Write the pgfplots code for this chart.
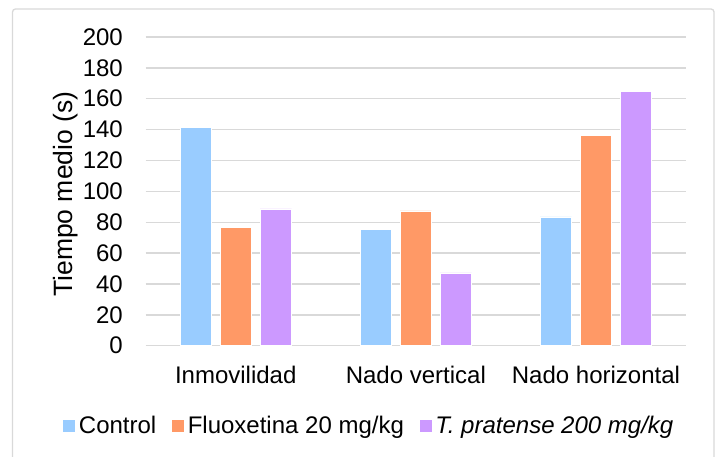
\documentclass[border=0pt]{standalone}
\usepackage{fontspec}
\setmainfont{Liberation Sans}
\usepackage{pgfplots}
\pgfplotsset{compat=1.18}

\definecolor{ctrl}{HTML}{99CCFF}
\definecolor{fluo}{HTML}{FF9966}
\definecolor{trif}{HTML}{CC99FF}
\definecolor{gridc}{HTML}{D9D9D9}
\newcommand{\chartfont}{\fontsize{24}{28}\selectfont}

\begin{document}
\begin{tikzpicture}[x=1pt,y=1pt]
\useasboundingbox (0,0) rectangle (719,457);
% marco del grafico
\draw[gridc, line width=1.3pt, rounded corners=3pt] (12.5,-10) rectangle (714,448);
\begin{axis}[
    at={(145.7pt,111.3pt)}, anchor=south west,
    width=540.3pt, height=308.7pt, scale only axis,
    xmin=-0.5, xmax=2.5, ymin=0, ymax=200,
    ybar=8.5pt, bar width=31.5pt,
    xtick={0,1,2},
    xticklabels={Inmovilidad, Nado vertical, Nado horizontal},
    ytick={0,20,...,200},
    major tick length=0pt,
    ymajorgrids, grid style={gridc, line width=1.4pt},
    axis line style={draw=none},
    tick label style={font=\chartfont, inner sep=0pt},
    yticklabel style={anchor=east, xshift=-22.7pt},
    xticklabel style={anchor=north, yshift=-20pt},
    /pgf/number format/assume math mode=true,
    ylabel={Tiempo medio (s)},
    ylabel style={font=\fontsize{26.5}{30}\selectfont, at={(axis description cs:-0.1485,0.491)}, anchor=center},
    legend columns=-1,
    legend style={at={(axis description cs:0.414,-0.259)}, anchor=center,
        draw=none, fill=none, font=\chartfont, inner sep=0pt,
        nodes={inner sep=3pt},
        /tikz/every even column/.append style={column sep=12pt}},
    legend image code/.code={\fill[#1] (0pt,-6.5pt) rectangle (13pt,6.5pt);},
]
\addplot[fill=ctrl, draw=white, line width=0.5pt] coordinates {(0,141.5) (1,75.3) (2,83.5)};
\addplot[fill=fluo, draw=white, line width=0.5pt] coordinates {(0,76.8) (1,87.4) (2,136.3)};
\addplot[fill=trif, draw=white, line width=0.5pt] coordinates {(0,88.7) (1,47.1) (2,164.8)};
\legend{Control, Fluoxetina 20 mg/kg, \textit{T. pratense 200 mg/kg}}
\end{axis}
\end{tikzpicture}
\end{document}
